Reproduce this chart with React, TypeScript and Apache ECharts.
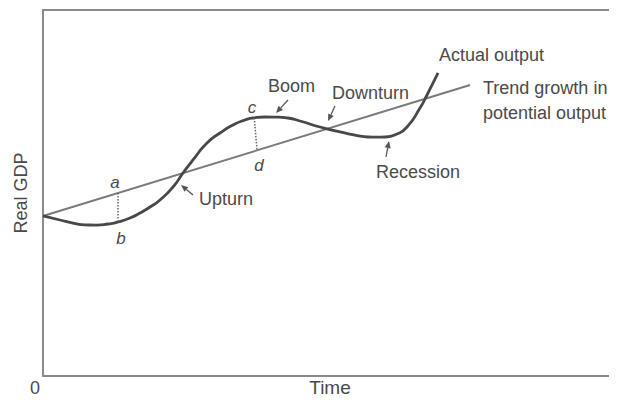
import React, { useEffect, useRef } from "react";
import * as echarts from "echarts";

// Time on x (0..100), Real GDP on y (0..100)
const trendPoints: [number, number][] = [
  [0, 43.7],
  [74.4, 79.5],
];

const actualOutput: [number, number][] = [
  [0, 43.72], [2.96, 42.62], [5.23, 41.8], [7.32, 41.3], [9.41, 41.22],
  [11.32, 41.53], [13.07, 42.08], [15.16, 43.17], [16.9, 44.54], [18.64, 46.17],
  [20.38, 48.09], [22.65, 51.64], [24.39, 55.46], [26.13, 59.02], [28.57, 63.66],
  [30.84, 66.39], [33.1, 68.58], [35.19, 69.95], [36.59, 70.49], [38.68, 70.77],
  [40.77, 70.74], [42.68, 70.49], [44.77, 69.67], [48.26, 68.03], [51.74, 66.67],
  [55.23, 65.57], [57.49, 65.25], [59.58, 65.3], [61.67, 66.12], [63.41, 68.03],
  [65.68, 73.22], [66.9, 76.78], [67.94, 80.05], [68.82, 82.79],
];

const gapAB: [number, number][] = [
  [13.07, 49.97],
  [13.07, 42.08],
];
const gapCD: [number, number][] = [
  [36.8, 70.5],
  [37.3, 61.6],
];

const TEXT = "#4a4a4a";
const FONT = "'Liberation Sans', Arial, Helvetica, sans-serif";

function arrow(x1: number, y1: number, x2: number, y2: number) {
  const ang = Math.atan2(y2 - y1, x2 - x1);
  const len = 7;
  const w = 3;
  const bx = x2 - len * Math.cos(ang);
  const by = y2 - len * Math.sin(ang);
  const px = -Math.sin(ang) * w;
  const py = Math.cos(ang) * w;
  return {
    type: "group",
    silent: true,
    children: [
      {
        type: "line",
        shape: { x1, y1, x2: bx, y2: by },
        style: { stroke: "#555", lineWidth: 1.3 },
      },
      {
        type: "polygon",
        shape: { points: [[x2, y2], [bx + px, by + py], [bx - px, by - py]] },
        style: { fill: "#555" },
      },
    ],
  };
}

function label(text: string, x: number, y: number, opts: any = {}) {
  return {
    type: "text",
    x,
    y,
    silent: true,
    style: {
      text,
      fill: TEXT,
      font: `${opts.italic ? "italic " : ""}${opts.size || 18}px ${FONT}`,
      align: opts.align || "left",
      verticalAlign: "middle",
    },
  };
}

export default function App() {
  const ref = useRef<HTMLDivElement>(null);
  useEffect(() => {
    if (!ref.current) return;
    const chart = echarts.init(ref.current, undefined, { renderer: "svg" });
    const axisLine = { show: true, lineStyle: { color: "#8a8a8a", width: 2 } };
    chart.setOption({
      animation: false,
      backgroundColor: "#ffffff",
      grid: {
        left: 43,
        right: 0,
        top: 10,
        bottom: 27,
        containLabel: false,
        outerBoundsMode: "none",
      },
      xAxis: [
        {
          type: "value",
          min: 0,
          max: 100,
          position: "bottom",
          axisLine,
          axisTick: { show: false },
          axisLabel: { show: false },
          splitLine: { show: false },
          name: "Time",
          nameLocation: "middle",
          nameGap: 2,
          nameTextStyle: {
            color: TEXT,
            fontSize: 19,
            fontFamily: FONT,
            verticalAlign: "top",
          },
        },
        {
          type: "value",
          min: 0,
          max: 100,
          position: "top",
          axisLine,
          axisTick: { show: false },
          axisLabel: { show: false },
          splitLine: { show: false },
        },
      ],
      yAxis: {
        type: "value",
        min: 0,
        max: 100,
        axisLine,
        axisTick: { show: false },
        axisLabel: { show: false },
        splitLine: { show: false },
        name: "Real GDP",
        nameLocation: "middle",
        nameGap: 13,
        nameTextStyle: { color: TEXT, fontSize: 18, fontFamily: FONT },
      },
      series: [
        {
          type: "line",
          data: trendPoints,
          showSymbol: false,
          silent: true,
          lineStyle: { color: "#7a7a7a", width: 2 },
        },
        {
          type: "line",
          data: actualOutput,
          smooth: 0.6,
          showSymbol: false,
          silent: true,
          lineStyle: { color: "#484848", width: 2.8 },
        },
        {
          type: "line",
          data: gapAB,
          showSymbol: false,
          silent: true,
          lineStyle: { color: "#666", width: 1.5, type: "dotted" },
        },
        {
          type: "line",
          data: gapCD,
          showSymbol: false,
          silent: true,
          lineStyle: { color: "#666", width: 1.5, type: "dotted" },
        },
      ],
      graphic: [
        label("0", 35, 388, { align: "center" }),
        label("Actual output", 439, 55),
        label("Trend growth in", 483, 88),
        label("potential output", 483, 113),
        label("Boom", 268, 86),
        label("Downturn", 332, 93),
        label("Recession", 418, 172, { align: "center" }),
        label("Upturn", 199, 199),
        label("a", 115, 182, { italic: true, align: "center", size: 17 }),
        label("b", 121, 238, { italic: true, align: "center", size: 17 }),
        label("c", 252, 107, { italic: true, align: "center", size: 17 }),
        label("d", 259, 165, { italic: true, align: "center", size: 17 }),
        arrow(288, 100, 276, 113),
        arrow(335, 106, 328, 121),
        arrow(386, 157, 389, 141),
        arrow(193, 195, 181, 185),
      ],
    });
    return () => chart.dispose();
  }, []);
  return <div ref={ref} style={{ width: 617, height: 403, margin: -8 }} />;
}
